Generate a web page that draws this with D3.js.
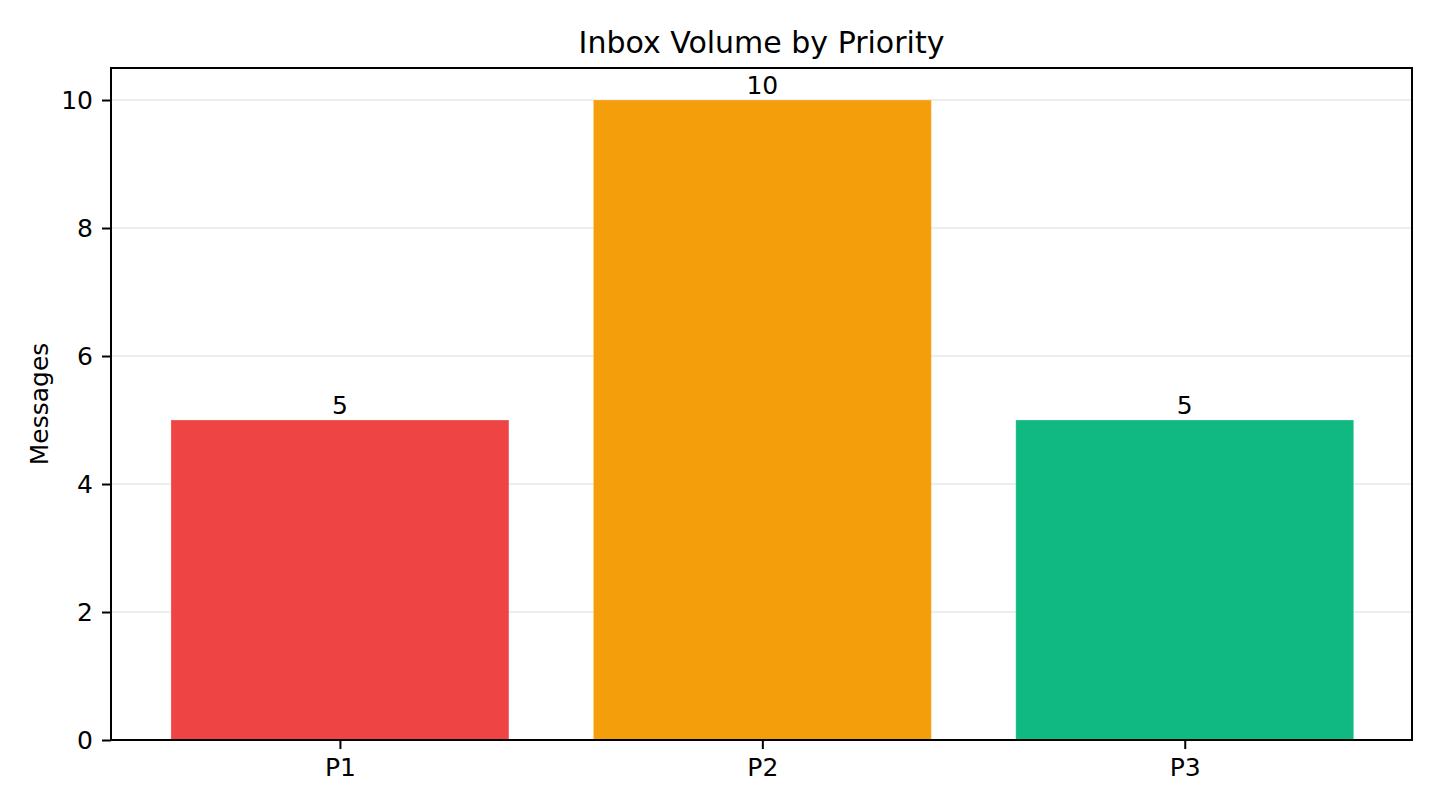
<!DOCTYPE html>
<html>
<head>
<meta charset="utf-8">
<script src="https://cdn.jsdelivr.net/npm/d3@7"></script>
<style>
  body { margin: 0; background: #fff; }
  text { font-family: "DejaVu Sans", sans-serif; fill: #000; }
</style>
</head>
<body>
<script>
// chart data
var categories = ["P1", "P2", "P3"];
var messages = [5, 10, 5];
var barColors = ["#ef4444", "#f59e0b", "#10b981"];
var yTicks = [0, 2, 4, 6, 8, 10];

var W = 1440, H = 810;
var m = {left: 111, right: 1412, top: 68, bottom: 740};
var tickLen = 9, tickPad = 9;

var svg = d3.select("body").append("svg")
  .attr("width", W)
  .attr("height", H);

// x runs about -0.54..2.54 like matplotlib's default margins around bars of width 0.8
var x = d3.scaleLinear().domain([-0.542, categories.length - 1 + 0.538]).range([m.left, m.right]);
var y = d3.scaleLinear().domain([0, 10.5]).range([m.bottom, m.top]);
var barW = x(0.8) - x(0);

// grid
svg.append("g")
  .selectAll("line")
  .data(yTicks)
  .enter().append("line")
  .attr("x1", m.left).attr("x2", m.right)
  .attr("y1", function (d) { return y(d); })
  .attr("y2", function (d) { return y(d); })
  .style("stroke", "#b0b0b0")
  .style("stroke-opacity", 0.3)
  .style("stroke-width", 1.6);

// bars
svg.append("g")
  .selectAll("rect")
  .data(messages)
  .enter().append("rect")
  .attr("x", function (d, i) { return x(i) - barW / 2; })
  .attr("y", function (d) { return y(d); })
  .attr("width", barW)
  .attr("height", function (d) { return y(0) - y(d); })
  .style("fill", function (d, i) { return barColors[i]; })
  .style("stroke", "#fff")
  .style("stroke-opacity", 0.3)
  .style("stroke-width", 0.8);

// value labels
svg.append("g")
  .selectAll("text")
  .data(messages)
  .enter().append("text")
  .attr("x", function (d, i) { return x(i); })
  .attr("y", function (d) { return y(d) - 6; })
  .attr("text-anchor", "middle")
  .style("font-size", "25px")
  .text(function (d) { return d; });

// axes
var xAxis = d3.axisBottom(x)
  .tickValues(d3.range(categories.length))
  .tickFormat(function (d) { return categories[d]; })
  .tickSize(tickLen).tickPadding(tickPad);
var yAxis = d3.axisLeft(y)
  .tickValues(yTicks)
  .tickSize(tickLen).tickPadding(tickPad);

var gx = svg.append("g").attr("transform", "translate(0," + m.bottom + ")").call(xAxis);
var gy = svg.append("g").attr("transform", "translate(" + m.left + ",0)").call(yAxis);
[gx, gy].forEach(function (g) {
  g.select(".domain").remove();
  g.selectAll(".tick line").style("stroke", "#000").style("stroke-width", 2);
  g.selectAll(".tick text").style("font-size", "25px").style("font-family", "DejaVu Sans");
});

// frame
svg.append("rect")
  .attr("x", m.left).attr("y", m.top)
  .attr("width", m.right - m.left)
  .attr("height", m.bottom - m.top)
  .style("fill", "none")
  .style("stroke", "#000")
  .style("stroke-width", 2);

// title and y label
svg.append("text")
  .attr("x", (m.left + m.right) / 2)
  .attr("y", 53)
  .attr("text-anchor", "middle")
  .style("font-size", "30px")
  .text("Inbox Volume by Priority");

svg.append("text")
  .attr("transform", "translate(48," + ((m.top + m.bottom) / 2) + ") rotate(-90)")
  .attr("text-anchor", "middle")
  .style("font-size", "25px")
  .text("Messages");
</script>
</body>
</html>
